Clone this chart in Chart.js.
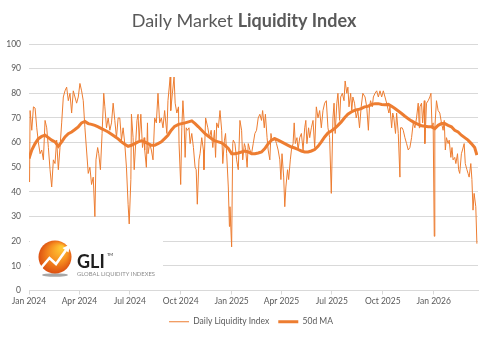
<!DOCTYPE html>
<html>
<head>
<meta charset="utf-8">
<script src="https://cdn.jsdelivr.net/npm/chart.js@4.4.1/dist/chart.umd.min.js"></script>
<style>
  body { margin: 0; background: #fff; }
  #wrap { width: 488px; height: 337px; }
</style>
</head>
<body>
<div id="wrap"><canvas id="gli" width="488" height="337"></canvas></div>
<script>
// days counted from 1 Jan 2024
const startDate = Date.UTC(2024, 0, 1);
const tickDates = ['2024-01-01', '2024-04-01', '2024-07-01', '2024-10-01', '2025-01-01',
  '2025-04-01', '2025-07-01', '2025-10-01', '2026-01-01'];
const tickLabels = ['Jan 2024', 'Apr 2024', 'Jul 2024', 'Oct 2024', 'Jan 2025',
  'Apr 2025', 'Jul 2025', 'Oct 2025', 'Jan 2026'];

const dailyDays = [1, 2, 5, 8, 11, 14, 17, 20, 23, 26, 29, 32, 35, 38, 41, 44, 47, 50, 53, 56,
  59, 62, 65, 68, 71, 74, 77, 80, 83, 86, 89, 92, 95, 98, 101, 107, 110, 113, 116, 119,
  121, 124, 126, 129, 132, 135, 137, 140, 143, 146, 149, 152, 155, 158, 161, 164, 167, 170, 173, 176,
  179, 181, 184, 185, 188, 190, 193, 195, 197, 199, 202, 205, 208, 209, 212, 214, 215, 218, 221, 224,
  227, 230, 233, 236, 239, 242, 245, 249, 251, 255, 256, 259, 262, 264, 267, 270, 271, 274, 276, 278,
  280, 282, 284, 286, 289, 291, 294, 297, 300, 302, 304, 307, 309, 312, 315, 316, 319, 323, 326, 329,
  332, 335, 337, 339, 342, 345, 348, 350, 353, 355, 357, 360, 362, 363, 366, 368, 369, 372, 375, 378,
  381, 384, 386, 389, 391, 394, 396, 399, 402, 405, 408, 411, 414, 417, 420, 422, 425, 427, 430, 432,
  435, 437, 439, 442, 444, 447, 450, 453, 455, 457, 460, 462, 464, 467, 469, 472, 474, 477, 479, 481,
  484, 486, 489, 492, 495, 498, 500, 502, 505, 507, 510, 513, 516, 519, 522, 525, 528, 531, 534, 537,
  540, 543, 546, 549, 551, 553, 556, 558, 561, 563, 566, 569, 571, 574, 576, 578, 581, 583, 585, 588,
  591, 594, 597, 600, 603, 607, 610, 613, 615, 617, 620, 622, 625, 628, 631, 634, 637, 640, 643, 646,
  650, 652, 655, 657, 659, 662, 664, 667, 670, 671, 674, 676, 679, 682, 685, 688, 691, 694, 697, 700,
  703, 705, 706, 709, 711, 714, 715, 718, 721, 724, 726, 728, 730, 732, 733, 736, 739, 742, 745, 748,
  750, 752, 754, 757, 759, 762, 764, 766, 769, 771, 774, 776, 778, 781, 783, 786, 788, 791, 793, 795,
  798, 800, 802, 804, 807, 809];
const dailyValues = [44, 73, 65, 74.5, 74, 66, 60, 55.5, 57, 53, 69, 66, 58, 49, 42, 53, 51.5, 61, 49, 58,
  68, 78.5, 81, 82.5, 77, 80, 72, 81, 78.5, 76, 78.5, 84, 81, 77, 66, 47.5, 50, 43, 46, 30,
  53, 58, 55.5, 49, 63.7, 80, 74.5, 66, 70, 65, 68, 76, 69, 62, 70, 70, 61, 66, 59.6, 50,
  35, 27, 45, 71.5, 62, 49, 61, 69, 71.5, 61, 71.5, 58, 62, 57, 50, 68, 55.5, 59.6, 57, 53,
  70, 68, 80, 68, 70, 66, 73, 63.7, 77, 86.6, 73, 80, 86.6, 76, 72, 74.5, 59.6, 43, 66, 77,
  69, 54, 66, 65, 66, 59.6, 63.7, 58, 50, 49, 35, 53, 55.5, 62, 57, 49, 70, 66, 62, 65,
  58, 65, 54, 68, 66, 73, 65, 51.5, 61, 63.7, 55.5, 42, 26, 34, 17.7, 59.6, 61, 59.6, 53, 49,
  69, 65, 53, 59.6, 58, 50, 59.6, 57, 55.5, 59.6, 63.7, 65, 70, 71.5, 69, 73, 66, 71.5, 62, 57,
  53, 63.7, 61, 62, 62, 59.6, 57, 53, 45, 55.5, 46, 34, 42, 49, 45, 53, 57, 59.6, 68, 59.6,
  62, 57, 62, 63.7, 57, 66, 69, 59.6, 66, 62, 66, 69, 58, 74.5, 70, 73, 66, 73, 76, 77,
  66, 62, 39.4, 70, 76, 63.7, 76, 80, 69, 78.5, 80, 77, 85, 80, 82.5, 74.5, 80, 73, 78.5, 76,
  70, 73, 66, 74.5, 80, 78.5, 74.5, 65, 74.5, 77, 74.5, 78.5, 80, 81, 78.5, 81, 78.5, 81, 78.5, 76,
  72, 74.5, 66, 72, 70, 63.7, 72, 63.7, 46, 66, 66, 65, 62, 59.6, 57, 58, 62, 68, 66, 70,
  76, 66, 74.5, 76, 68, 77, 59.6, 76, 77, 78.5, 80, 66, 68, 22, 66, 77, 73, 72, 68, 65,
  69, 57, 62, 59.6, 61, 54, 58, 53, 54, 51.5, 55.5, 49, 47.5, 55.5, 57, 59.6, 51.5, 49, 47.5, 46,
  51.5, 45, 32.6, 39.4, 34, 19];

const maDays = [0, 5, 11, 17, 23, 29, 35, 41, 47, 53, 59, 65, 71, 77, 83, 89, 95, 101, 107, 113,
  119, 125, 131, 137, 143, 149, 155, 161, 167, 173, 179, 185, 191, 197, 203, 209, 215, 221, 227, 233,
  239, 245, 251, 257, 263, 270, 276, 282, 288, 294, 300, 306, 312, 318, 324, 330, 336, 342, 348, 354,
  360, 366, 372, 378, 384, 390, 396, 402, 408, 414, 420, 426, 432, 438, 444, 450, 456, 462, 468, 474,
  480, 486, 492, 498, 504, 510, 516, 522, 528, 534, 540, 546, 552, 558, 564, 570, 576, 582, 588, 594,
  600, 606, 612, 618, 625, 631, 637, 643, 649, 655, 661, 667, 673, 679, 685, 691, 697, 703, 709, 715,
  721, 727, 733, 739, 745, 751, 757, 763, 769, 775, 781, 787, 793, 799, 805, 809];
const maValues = [53.5, 57, 59.6, 61.6, 62.5, 63, 62, 61, 60.3, 58.5, 60.3, 62.3, 63.6, 64.3, 65.3, 66.4, 68, 68.6, 67.7, 67.4,
  67, 66.4, 65.7, 65, 64.3, 63.4, 62.5, 61.5, 60.3, 59.3, 58.5, 58.9, 59.6, 60.3, 60.7, 60.3, 59.6, 58.9, 58.9, 59.6,
  60.3, 61.6, 63, 65, 66.6, 67.4, 67.7, 68, 68.4, 68.8, 67.7, 66.4, 65, 63.6, 62.6, 61.6, 60.7, 60.3, 59.9, 58.9,
  57.6, 55.5, 55.5, 55.8, 56.2, 56.6, 56.2, 55.5, 55.5, 55.8, 56.2, 57.6, 59.6, 61, 61.6, 61, 60.3, 59.6, 58.9, 58.2,
  57.8, 57.2, 56.6, 56.2, 56.2, 56.6, 57.2, 58.5, 60.3, 62.3, 63.9, 64.7, 65.7, 67, 68.4, 70.1, 71.5, 72.4, 73.1, 73.4,
  73.8, 74.5, 74.7, 75.4, 75.8, 75.8, 75.5, 75.4, 75.5, 74.7, 73.8, 72.8, 71.8, 70.7, 69.7, 68.8, 68, 67.4, 66.8, 66.6,
  66.4, 66.4, 65.7, 67, 67.7, 67.7, 67, 66.4, 65, 64.3, 63, 62, 61, 59.6, 58, 54.9];

const toDay = s => (Date.parse(s + 'T00:00:00Z') - startDate) / 86400000;
const tickDays = tickDates.map(toDay);

const orange = '#ed7d31';
const textGrey = '#595959';
const gridGrey = '#d9d9d9';

// title with a bold part, drawn above the plot
const titlePlugin = {
  id: 'mixedTitle',
  afterDraw(chart) {
    const ctx = chart.ctx;
    ctx.save();
    ctx.fillStyle = textGrey;
    ctx.textBaseline = 'alphabetic';
    const a = 'Daily Market ', b = 'Liquidity Index';
    ctx.font = '18px Lato';
    const wa = ctx.measureText(a).width;
    ctx.font = 'bold 18px Lato';
    const wb = ctx.measureText(b).width;
    const x0 = 244 - (wa + wb) / 2;
    ctx.font = '18px Lato';
    ctx.fillText(a, x0, 27);
    ctx.font = 'bold 18px Lato';
    ctx.fillText(b, x0 + wa, 27);
    ctx.restore();
  }
};

// nudge the legend row to the right, like the original
const legendShift = {
  id: 'legendShift',
  afterLayout(chart) {
    chart.legend.left += 12;
    chart.legend.right += 12;
  }
};

// GLI logo box in the lower left of the plot
const logoPlugin = {
  id: 'gliLogo',
  afterDatasetsDraw(chart) {
    const ctx = chart.ctx;
    ctx.save();
    ctx.fillStyle = '#fff';
    ctx.fillRect(30, 233, 133, 52);

    // shadow
    ctx.fillStyle = 'rgba(60,60,60,0.45)';
    ctx.beginPath();
    ctx.ellipse(55, 275, 13, 1.8, 0, 0, Math.PI * 2);
    ctx.fill();

    // orange ball
    const g = ctx.createRadialGradient(62, 248, 2, 55, 257, 18);
    g.addColorStop(0, '#ffc533');
    g.addColorStop(0.5, '#f58a1f');
    g.addColorStop(1, '#d9480f');
    ctx.fillStyle = g;
    ctx.beginPath();
    ctx.arc(55, 257, 16.5, 0, Math.PI * 2);
    ctx.fill();

    // white zigzag arrow
    ctx.strokeStyle = '#fff';
    ctx.lineWidth = 2.6;
    ctx.beginPath();
    ctx.moveTo(41, 268);
    ctx.lineTo(49.5, 258);
    ctx.lineTo(56, 264);
    ctx.lineTo(66, 250);
    ctx.stroke();
    ctx.fillStyle = '#fff';
    ctx.beginPath();
    ctx.moveTo(70, 244.5);
    ctx.lineTo(62.5, 248);
    ctx.lineTo(68.5, 252.5);
    ctx.closePath();
    ctx.fill();

    // text
    ctx.fillStyle = '#1e1e1e';
    ctx.font = 'bold 18px Lato';
    ctx.textBaseline = 'alphabetic';
    ctx.fillText('GLI', 77, 268);
    ctx.font = '4px Lato';
    ctx.fillText('TM', 107, 256);
    ctx.fillStyle = '#8c8c8c';
    ctx.font = '6px Lato';
    const sub = 'GLOBAL LIQUIDITY INDEXES';
    const w = ctx.measureText(sub).width;
    ctx.translate(77, 276);
    ctx.scale(78 / w, 1);
    ctx.fillText(sub, 0, 0);
    ctx.restore();
  }
};

new Chart(document.getElementById('gli'), {
  type: 'line',
  data: {
    datasets: [
      {
        label: 'Daily Liquidity Index',
        data: dailyDays.map((d, i) => ({ x: d, y: dailyValues[i] })),
        borderColor: orange,
        backgroundColor: orange,
        borderWidth: 1,
        pointRadius: 0,
        tension: 0,
        order: 1
      },
      {
        label: '50d MA',
        data: maDays.map((d, i) => ({ x: d, y: maValues[i] })),
        borderColor: orange,
        backgroundColor: orange,
        borderWidth: 3,
        pointRadius: 0,
        tension: 0,
        order: 0
      }
    ]
  },
  options: {
    responsive: false,
    animation: false,
    layout: { padding: { top: 44, right: 10, left: 0, bottom: 1 } },
    scales: {
      x: {
        type: 'linear',
        min: 0,
        max: 811,
        afterBuildTicks: s => { s.ticks = tickDays.map(v => ({ value: v })); },
        afterFit: s => { s.height = 18; },
        ticks: {
          autoSkip: false,
          maxRotation: 0,
          padding: 2,
          color: textGrey,
          font: { family: 'Lato', size: 8.5 },
          callback: v => tickLabels[tickDays.indexOf(v)]
        },
        grid: { drawOnChartArea: false, drawTicks: true, tickLength: 4, color: gridGrey },
        border: { display: true, color: gridGrey }
      },
      y: {
        min: 0,
        max: 100,
        afterFit: s => { s.width = 29; },
        ticks: {
          stepSize: 10,
          padding: 8,
          color: textGrey,
          font: { family: 'Lato', size: 8.5 }
        },
        grid: { color: gridGrey, drawTicks: false },
        border: { display: false }
      }
    },
    plugins: {
      title: { display: false },
      tooltip: { enabled: false },
      legend: {
        position: 'bottom',
        labels: {
          usePointStyle: true,
          pointStyle: 'line',
          pointStyleWidth: 20,
          boxHeight: 8,
          padding: 9,
          color: textGrey,
          font: { family: 'Lato', size: 8.5 },
          sort: (a, b) => a.datasetIndex - b.datasetIndex
        }
      }
    }
  },
  plugins: [titlePlugin, logoPlugin, legendShift]
});
</script>
</body>
</html>
